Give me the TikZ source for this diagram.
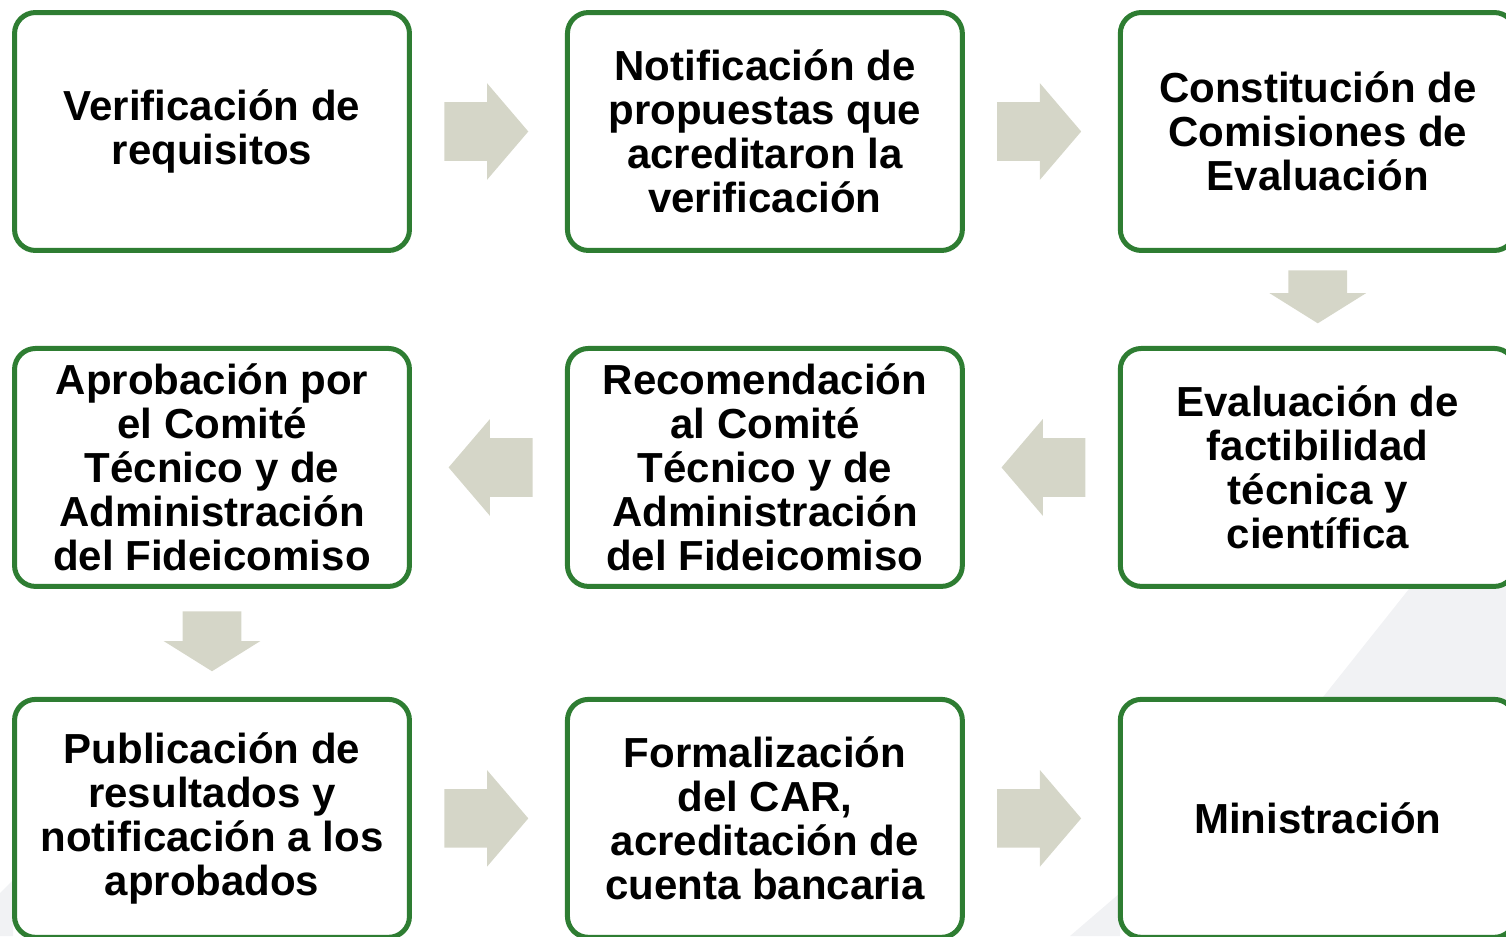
\documentclass[tikz,border=0pt]{standalone}
\usepackage{fontspec}
\setmainfont{Liberation Sans}
\usetikzlibrary{positioning, shapes.arrows}
\definecolor{boxgreen}{RGB}{46, 125, 50}
\definecolor{arrowgray}{RGB}{213, 214, 200}
\definecolor{bggray}{RGB}{241, 242, 244}

\begin{document}
\begin{tikzpicture}[
    x=0.02cm, y=-0.02cm,
    node distance=1.86cm and 3.06cm,
    stage/.style={rectangle, draw=boxgreen, line width=0.1cm,
                  rounded corners=0.42cm, fill=white,
                  minimum width=7.9cm, minimum height=4.76cm, align=center,
                  font=\fontsize{23.9}{25}\selectfont\bfseries},
    blockarrow/.style={single arrow, fill=arrowgray, draw=none,
                       inner xsep=0pt, inner ysep=0.58cm,
                       minimum height=1.68cm,
                       single arrow head extend=0.38cm, single arrow tip angle=99},
    downarrow/.style={blockarrow, single arrow tip angle=116, rotate=-90},
    leftarrow/.style={blockarrow, rotate=180}
]
    \useasboundingbox (0,0) rectangle (1506,936);
    \clip (0,0) rectangle (1506,936);

    % Faint background shapes
    \fill[bggray] (1432,560) -- (1506,560) -- (1506,936) -- (1133,936) -- cycle;
    \fill[bggray] (1070,936) -- (1120,893) -- (1120,936) -- cycle;
    \fill[bggray] (0,893) -- (13,880) -- (13,936) -- (0,936) -- cycle;

    % Steps
    \node[stage] (verif) at (212,131.5) {Verificación de\\requisitos};
    \node[stage, right=of verif] (notif) {Notificación de\\propuestas que\\acreditaron la\\verificación};
    \node[stage, right=of notif] (constit) {Constitución de\\Comisiones de\\Evaluación};
    \node[stage, below=of constit] (evalfact) {Evaluación de\\factibilidad\\técnica y\\científica};
    \node[stage, below=of notif] (recom) {Recomendación\\al Comité\\Técnico y de\\Administración\\del Fideicomiso};
    \node[stage, below=of verif] (aprob) {Aprobación por\\el Comité\\Técnico y de\\Administración\\del Fideicomiso};
    \node[stage, below=2.16cm of aprob] (publ) {Publicación de\\resultados y\\notificación a los\\aprobados};
    \node[stage, right=of publ] (formal) {Formalización\\del CAR,\\acreditación de\\cuenta bancaria};
    \node[stage, right=of formal] (minis) {Ministración};

    % Block arrows
    \node[blockarrow, right=0.64cm of verif, anchor=tail] (a1) {};
    \node[blockarrow, right=0.64cm of notif, anchor=tail] (a2) {};
    \node[downarrow, minimum height=1.06cm, below=0.34cm of constit, anchor=tail] (a3) {};
    \node[leftarrow, left=0.64cm of evalfact, anchor=tail] (a4) {};
    \node[leftarrow, left=0.64cm of recom, anchor=tail] (a5) {};
    \node[downarrow, minimum height=1.2cm, below=0.44cm of aprob, anchor=tail] (a6) {};
    \node[blockarrow, right=0.64cm of publ, anchor=tail] (a7) {};
    \node[blockarrow, right=0.64cm of formal, anchor=tail] (a8) {};

\end{tikzpicture}
\end{document}
